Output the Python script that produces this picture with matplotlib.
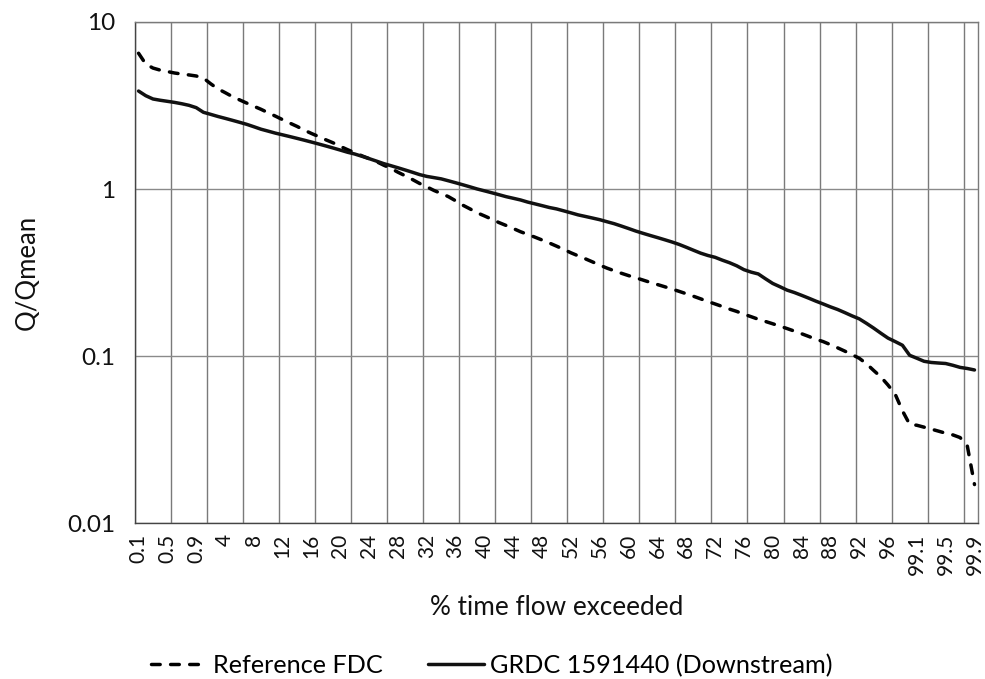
import numpy as np
import matplotlib
matplotlib.use("Agg")
import matplotlib.pyplot as plt
from matplotlib.ticker import FixedLocator, NullLocator, FuncFormatter

plt.rcParams['font.family'] = ['Lato', 'DejaVu Sans']

# categories: % time flow exceeded
categories = ([f"{v / 10:.1f}" for v in range(1, 10)]
              + [str(v) for v in range(1, 100)]
              + [f"99.{v}" for v in range(1, 10)])

# Q/Qmean
reference_fdc = [
    6.5, 5.6, 5.3, 5.15, 5.05, 4.95, 4.88, 4.82, 4.75,           # 0.1 - 0.9
    4.62, 4.27, 3.98, 3.78, 3.58, 3.42, 3.27, 3.13, 3.0, 2.86,    # 1 - 10
    2.73, 2.6, 2.48, 2.37, 2.25, 2.15, 2.06, 1.97, 1.89, 1.80,    # 11 - 20
    1.72, 1.65, 1.58, 1.52, 1.46, 1.39, 1.33, 1.26, 1.2, 1.14,    # 21 - 30
    1.08, 1.03, 0.98, 0.94, 0.90, 0.85, 0.80, 0.76, 0.72, 0.69,   # 31 - 40
    0.66, 0.63, 0.605, 0.58, 0.555, 0.535, 0.515, 0.495, 0.475, 0.455,  # 41 - 50
    0.435, 0.415, 0.398, 0.382, 0.366, 0.35, 0.336, 0.324, 0.313, 0.303,  # 51 - 60
    0.294, 0.285, 0.276, 0.268, 0.26, 0.252, 0.244, 0.236, 0.228, 0.22,  # 61 - 70
    0.212, 0.205, 0.198, 0.191, 0.185, 0.178, 0.172, 0.166, 0.161, 0.156,  # 71 - 80
    0.151, 0.146, 0.141, 0.136, 0.131, 0.126, 0.122, 0.117, 0.112, 0.107,  # 81 - 90
    0.102, 0.097, 0.090, 0.082, 0.075, 0.067, 0.059, 0.047, 0.039,       # 91 - 99
    0.0385, 0.0375, 0.0365, 0.0355, 0.0345, 0.0337, 0.0325, 0.029, 0.017,  # 99.1 - 99.9
]

grdc_downstream = [
    3.86, 3.62, 3.46, 3.4, 3.35, 3.3, 3.24, 3.17, 3.07,           # 0.1 - 0.9
    2.88, 2.8, 2.72, 2.65, 2.58, 2.51, 2.44, 2.36, 2.28, 2.22,    # 1 - 10
    2.16, 2.11, 2.06, 2.01, 1.96, 1.91, 1.86, 1.81, 1.76, 1.71,   # 11 - 20
    1.66, 1.62, 1.57, 1.52, 1.47, 1.42, 1.38, 1.34, 1.30, 1.26,   # 21 - 30
    1.22, 1.19, 1.17, 1.15, 1.12, 1.09, 1.06, 1.03, 1.0, 0.975,   # 31 - 40
    0.95, 0.925, 0.90, 0.88, 0.86, 0.835, 0.815, 0.795, 0.775, 0.76,  # 41 - 50
    0.74, 0.72, 0.70, 0.685, 0.67, 0.655, 0.637, 0.62, 0.60, 0.58,  # 51 - 60
    0.56, 0.543, 0.527, 0.512, 0.497, 0.482, 0.466, 0.448, 0.43, 0.413,  # 61 - 70
    0.40, 0.39, 0.375, 0.362, 0.347, 0.329, 0.318, 0.31, 0.29, 0.272,  # 71 - 80
    0.26, 0.248, 0.24, 0.231, 0.222, 0.213, 0.205, 0.197, 0.19, 0.182,  # 81 - 90
    0.174, 0.167, 0.157, 0.147, 0.137, 0.128, 0.122, 0.116, 0.101,    # 91 - 99
    0.097, 0.093, 0.0915, 0.0908, 0.0902, 0.088, 0.0855, 0.0842, 0.0825,  # 99.1 - 99.9
]

y_ticks = [0.01, 0.1, 1, 10]

x = np.arange(len(categories))

fig = plt.figure(figsize=(9.85, 6.79), dpi=100)
ax = fig.add_axes([0.137, 0.2297, 0.856, 0.7379])

ax.plot(x, reference_fdc, color='black', linewidth=2.5,
        linestyle=(0, (2.5, 3.0)), dash_capstyle='round',
        label='Reference FDC')
ax.plot(x, grdc_downstream, color='#111111', linewidth=2.5,
        solid_capstyle='round', label='GRDC 1591440 (Downstream)')

ax.set_yscale('log')
ax.set_ylim(0.01, 10)
ax.set_xlim(-0.5, len(categories) - 0.5)

ax.yaxis.set_major_locator(FixedLocator(y_ticks))
ax.yaxis.set_minor_locator(NullLocator())
ax.yaxis.set_major_formatter(FuncFormatter(lambda v, p: f"{v:g}"))

# labels every 4th category, grid lines every 5th category boundary
ax.set_xticks(x[::4])
ax.set_xticklabels(categories[::4], rotation=90)
ax.xaxis.set_minor_locator(FixedLocator(np.arange(-0.5, len(categories), 5)))

ax.grid(True, axis='y', which='major', color='#8a8a8a', linewidth=1.0)
ax.grid(True, axis='x', which='minor', color='#7a7a7a', linewidth=1.0)
ax.set_axisbelow(True)

ax.tick_params(axis='both', which='both', length=0)
ax.tick_params(axis='y', labelsize=17.5, pad=14, colors='#111111')
ax.tick_params(axis='x', labelsize=15, pad=8, colors='#111111')

for side, sp in ax.spines.items():
    sp.set_color('#7a7a7a')
    sp.set_linewidth(1.0)
ax.spines['left'].set_color('#444444')
ax.spines['bottom'].set_color('#444444')

ax.set_ylabel('Q/Qmean', fontsize=18.5, labelpad=20, color='#111111')
ax.set_xlabel('% time flow exceeded', fontsize=18.8, labelpad=14, color='#111111')

fig.legend(loc='center', bbox_to_anchor=(0.4995, 0.02), ncol=2,
           frameon=False, fontsize=18.2, handlelength=2.2, handletextpad=0.25,
           columnspacing=1.8)

fig.savefig('out.png', dpi=100)
